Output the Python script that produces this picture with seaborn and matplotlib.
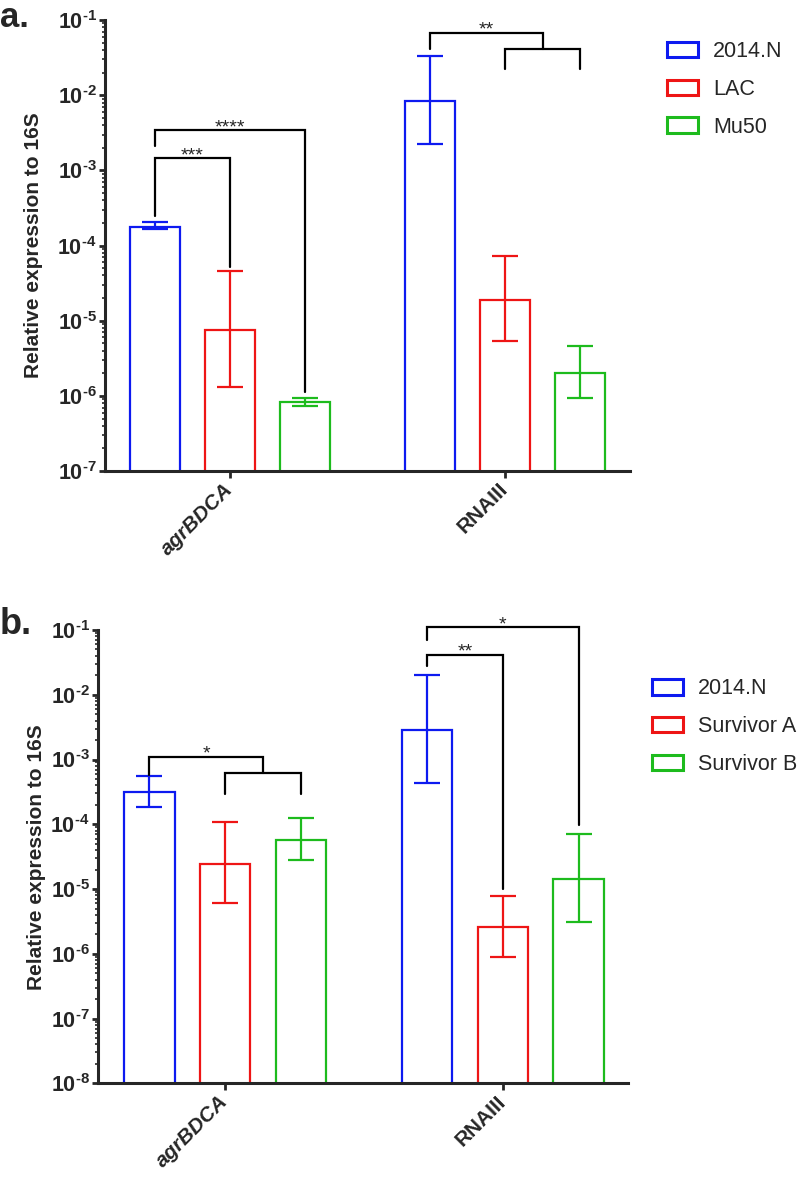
import matplotlib
matplotlib.use('Agg')
import matplotlib.pyplot as plt
from matplotlib.patches import Patch
from matplotlib.ticker import NullFormatter
import numpy as np
import pandas as pd
import seaborn as sns

genes = ['agrBDCA', 'RNAIII']
colors = ['#0d1af0', '#ee1515', '#1dbb1d']

# panel a: rows are strains, columns are genes
strains_a = ['2014.N', 'LAC', 'Mu50']
mean_a = [[1.79e-4, 8.3e-3], [7.5e-6, 1.89e-5], [8.1e-7, 2.03e-6]]
low_a = [[1.66e-4, 2.27e-3], [1.32e-6, 5.4e-6], [7.4e-7, 9.4e-7]]
high_a = [[2.03e-4, 3.3e-2], [4.56e-5, 7.3e-5], [9.5e-7, 4.64e-6]]

# panel b
strains_b = ['2014.N', 'Survivor A', 'Survivor B']
mean_b = [[3.1e-4, 2.83e-3], [2.48e-5, 2.55e-6], [5.69e-5, 1.42e-5]]
low_b = [[1.86e-4, 4.35e-4], [6.2e-6, 9.0e-7], [2.8e-5, 3.05e-6]]
high_b = [[5.52e-4, 2.05e-2], [1.07e-4, 7.86e-6], [1.27e-4, 7.2e-5]]

# significance brackets: (text, left bar, right bar, level, left leg end, right leg end)
# bar index = gene * 3 + strain; a tuple as right bar means "middle of a sub bracket"
brackets_a = [
    ('***', 0, 1, 1.46e-3, 2.44e-4, 5.25e-5),
    ('****', 0, 2, 3.41e-3, 2.09e-3, 1.13e-6),
    ('**', 3, (4, 5, 4.16e-2, 2.2e-2), 6.79e-2, 4.07e-2, None),
]
brackets_b = [
    ('*', 0, (1, 2, 6.3e-4, 2.92e-4), 1.1e-3, 5.73e-4, None),
    ('**', 3, 4, 4.17e-2, 2.75e-2, 9.86e-6),
    ('*', 3, 5, 0.111, 0.0711, 9.68e-5),
]

sns.set_style('ticks')
plt.rcParams['font.family'] = ['Liberation Sans', 'DejaVu Sans']
plt.rcParams['mathtext.fontset'] = 'custom'
plt.rcParams['mathtext.bf'] = 'Liberation Sans:bold'
plt.rcParams['mathtext.rm'] = 'Liberation Sans'

LW = 1.6


def bracket(ax, centers, spec):
    text, i, j, level, b1, b2 = spec
    x1 = centers[i]
    if isinstance(j, tuple):
        k, m, sub_level, sub_end = j
        xk, xm = centers[k], centers[m]
        ax.plot([xk, xk, xm, xm], [sub_end, sub_level, sub_level, sub_end],
                color='black', lw=LW, clip_on=False, solid_joinstyle='miter')
        x2 = (xk + xm) / 2
        b2 = sub_level
    else:
        x2 = centers[j]
    ax.plot([x1, x1, x2, x2], [b1, level, level, b2],
            color='black', lw=LW, clip_on=False, solid_joinstyle='miter')
    ax.annotate(text, ((x1 + x2) / 2, level), xytext=(0, -1.5), textcoords='offset points',
                ha='center', va='baseline', fontsize=14, annotation_clip=False)


def panel(ax, strains, means, lows, highs, exp_min, xlim, brackets, label_x):
    rows = []
    for s, vals in zip(strains, means):
        for g, v in zip(genes, vals):
            rows.append({'gene': g, 'strain': s, 'value': v})
    df = pd.DataFrame(rows)
    floor = 10.0 ** (exp_min - 1)
    sns.barplot(data=df, x='gene', y='value', hue='strain', order=genes, hue_order=strains,
                palette=colors, fill=False, linewidth=LW, width=0.818, gap=0.333,
                errorbar=None, log_scale=True, legend=False, bottom=floor, ax=ax)
    centers = sorted(p.get_x() + p.get_width() / 2 for p in ax.patches)

    for s in range(3):
        xs = [centers[g * 3 + s] for g in range(2)]
        m = np.array(means[s])
        err = [m - np.array(lows[s]), np.array(highs[s]) - m]
        ax.errorbar(xs, m, yerr=err, fmt='none', ecolor=colors[s],
                    elinewidth=LW, capsize=9.7, capthick=LW)

    for spec in brackets:
        bracket(ax, centers, spec)

    ax.set_xlim(xlim)
    ax.set_ylim(10.0 ** exp_min, 1e-1)
    exps = np.arange(exp_min, 0)
    ax.set_yticks(10.0 ** exps)
    ax.set_yticklabels(['$\\mathbf{10^{\u2010%d}}$' % -e for e in exps], fontsize=15.5)
    ax.yaxis.set_minor_formatter(NullFormatter())
    ax.tick_params(axis='y', which='major', length=4, width=2, pad=2)
    ax.tick_params(axis='y', which='minor', length=2.5, width=1.2)
    ax.tick_params(axis='x', length=5, width=2, pad=6)

    ax.set_xticks([0, 1])
    ax.set_xticklabels(genes, rotation=45, ha='right', va='center', rotation_mode='anchor',
                       fontsize=15, fontweight='bold')
    ax.get_xticklabels()[0].set_fontstyle('italic')
    ax.set_xlabel('')
    ax.set_ylabel('Relative expression to 16S', fontsize=15, fontweight='bold')
    ax.yaxis.set_label_coords(label_x, 0.5)

    sns.despine(ax=ax)
    for side in ['left', 'bottom']:
        ax.spines[side].set_linewidth(2.2)


fig = plt.figure(figsize=(8, 11.8), dpi=100)
ax_a = fig.add_axes([0.13125, 0.6008, 0.65625, 0.3822])
ax_b = fig.add_axes([0.1225, 0.0819, 0.6625, 0.3842])

panel(ax_a, strains_a, mean_a, low_a, high_a, -7, (-0.4545, 1.4545), brackets_a, -0.118)
panel(ax_b, strains_b, mean_b, low_b, high_b, -8, (-0.457, 1.45), brackets_b, -0.098)


def legend(ax, strains, anchor):
    handles = [Patch(facecolor='white', edgecolor=c, linewidth=2.2, label=s)
               for s, c in zip(strains, colors)]
    ax.legend(handles=handles, loc='upper left', bbox_to_anchor=anchor,
              bbox_transform=fig.transFigure, frameon=False, fontsize=15.5,
              borderpad=0, borderaxespad=0, handlelength=1.44, handleheight=0.7,
              handletextpad=0.7, labelspacing=0.78)


legend(ax_a, strains_a, (0.834, 0.9653))
legend(ax_b, strains_b, (0.815, 0.425))

fig.text(0.0, 0.999, 'a.', fontsize=25, fontweight='bold', va='top')
fig.text(0.0, 0.4627, 'b.', fontsize=26, fontweight='bold', va='baseline')

fig.savefig('out.png', dpi=100)
